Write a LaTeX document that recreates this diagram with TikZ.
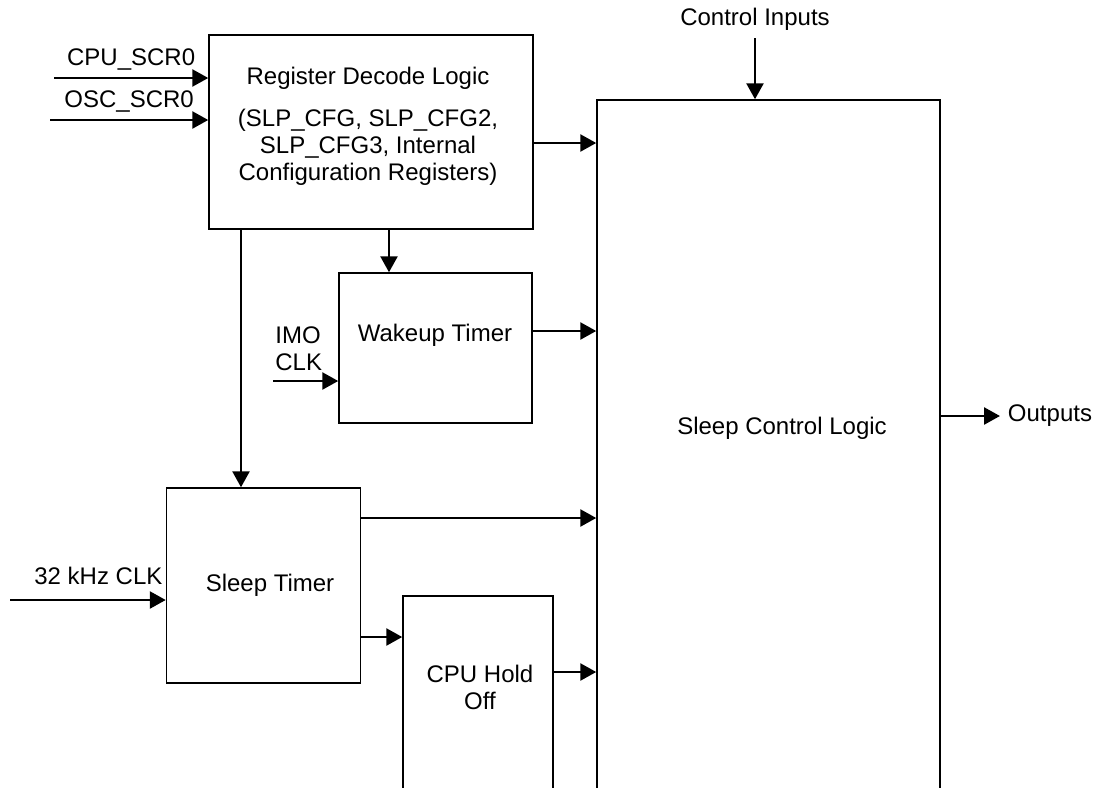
\documentclass[tikz,border=0pt]{standalone}
\usepackage{fontspec}
\setmainfont{Liberation Sans}
\usetikzlibrary{arrows.meta}

\begin{document}
\begin{tikzpicture}[x=0.5pt,y=-0.5pt,>={Triangle[length=8pt,width=8.5pt]},
  font=\fontsize{12pt}{13.5pt}\selectfont,line cap=butt,
  blk/.style={draw,line width=0.75pt,inner sep=0pt},
  sig/.style={->,line width=1.3pt}]
\useasboundingbox (0,0) rectangle (1099,788);
\clip (0,0) rectangle (1099,788);
% blocks
\node[blk,minimum width=162pt,minimum height=97pt] (rdl) at (371,132) {};
\node[blk,minimum width=96.5pt,minimum height=75pt] (wt) at (435.5,348) {};
\node[blk,minimum width=97pt,minimum height=97.5pt] (st) at (263.5,585.5) {};
\node[blk,minimum width=75pt,minimum height=130pt] (cho) at (478,726) {};
\node[blk,minimum width=171.5pt,minimum height=380pt] (scl) at (768.5,480) {};
% block texts
\node (rdltitle) at (368,78) {Register Decode Logic};
\node[align=center] (rdlregs) at (368,147) {(SLP\_CFG, SLP\_CFG2,\\SLP\_CFG3, Internal\\Configuration Registers)};
\node (wtname) at (435,335) {Wakeup Timer};
\node (stname) at (270,585) {Sleep Timer};
\node[align=center] (choname) at (480,687) {CPU Hold\\Off};
\node (sclname) at (782,428) {Sleep Control Logic};
% free ends
\coordinate (cpuin) at (54,78);
\coordinate (oscin) at (50,120);
\coordinate (imoin) at (273,381);
\coordinate (clkin) at (10,600);
\coordinate (ctlin) at (755,38);
\coordinate (outpt) at (1000,416);
% inputs
\draw[sig] (cpuin) -- (cpuin -| rdl.west) node[midway,above] (cpulbl) {CPU\_SCR0};
\draw[sig] (oscin) -- (oscin -| rdl.west) node[midway,above] (osclbl) {OSC\_SCR0};
\draw[sig] (imoin) -- (imoin -| wt.west);
\node[align=left,anchor=west,inner sep=0pt] (imolbl) at (275,349) {IMO\\CLK};
\draw[sig] (clkin) -- (clkin -| st.west) node[anchor=south east,inner sep=1pt,yshift=6pt] (clklbl) {32 kHz CLK};
\draw[sig] (ctlin) node[above] (ctllbl) {Control Inputs} -- (ctlin |- scl.north);
% internal
\draw[sig] (rdl.east |- 0,143) -- (scl.west |- 0,143);
\draw[sig] (rdl.south -| 389,0) -- (wt.north -| 389,0);
\draw[sig] (rdl.south -| 241,0) -- (st.north -| 241,0);
\draw[sig] (wt.east |- 0,331) -- (scl.west |- 0,331);
\draw[sig] (st.east |- 0,518) -- (scl.west |- 0,518);
\draw[sig] (st.east |- 0,637) -- (cho.west |- 0,637);
\draw[sig] (cho.east |- 0,672) -- (scl.west |- 0,672);
% output
\draw[sig] (scl.east |- 0,416) -- (outpt) node[right] (outlbl) {Outputs};
\end{tikzpicture}
\end{document}
